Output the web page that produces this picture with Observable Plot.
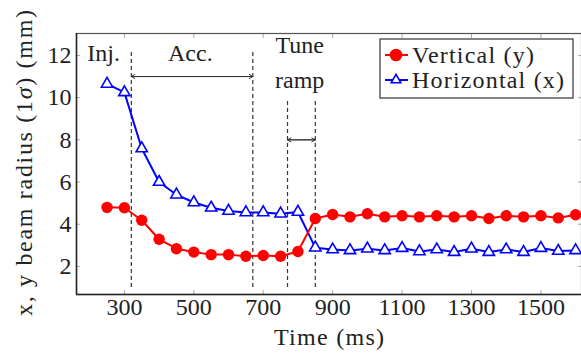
<!DOCTYPE html>
<html><head><meta charset="utf-8">
<script src="https://cdn.jsdelivr.net/npm/d3@7"></script>
<script src="https://cdn.jsdelivr.net/npm/@observablehq/plot@0.6"></script>
<style>
body{margin:0;background:#fff;}
#chart{position:relative;width:581px;height:354px;overflow:hidden;}
</style></head><body><div id="chart"></div>
<script>
// Time (ms) of each measurement
const times = [250,300,350,400,450,500,550,600,650,700,750,800,850,900,950,1000,1050,1100,1150,1200,1250,1300,1350,1400,1450,1500,1550,1600];
// Vertical (y) beam radius, mm
const vertical = [4.8,4.78,4.19,3.29,2.84,2.68,2.56,2.56,2.48,2.52,2.48,2.71,4.27,4.46,4.35,4.5,4.35,4.4,4.35,4.4,4.35,4.4,4.27,4.4,4.35,4.4,4.3,4.45];
// Horizontal (x) beam radius, mm
const horizontal = [10.65,10.25,7.59,6.0,5.4,5.03,4.78,4.63,4.56,4.56,4.5,4.58,2.89,2.8,2.76,2.84,2.76,2.87,2.71,2.8,2.68,2.84,2.68,2.8,2.68,2.87,2.73,2.76];
const xTicks = [300,500,700,900,1100,1300,1500];
const yTicks = [2,4,6,8,10,12];
// phase boundaries (ms) and the heights where each dashed line starts / ends
const phaseTimes = [320,670,770,850];
const phaseTops = [12.15,12.15,9.85,9.85];
const phaseBottom = 1.0;
// double arrows spanning the phases
const arrowFrom = [320,770];
const arrowTo = [670,850];
const arrowLevel = [11.0,8.0];
// phase labels
const labelText = ["Inj.","Acc.","Tune","ramp"];
const labelTime = [240,490,805,805];
const labelLevel = [12.1,12.1,12.5,10.8];

const seriesV = times.map((t,i)=>({t, v: vertical[i]}));
const seriesH = times.map((t,i)=>({t, v: horizontal[i]}));
const lines = phaseTimes.map((t,i)=>({t, top: phaseTops[i]}));
const arrows = arrowFrom.map((a,i)=>({a, b: arrowTo[i], y: arrowLevel[i]}));
const labels = labelText.map((s,i)=>({s, t: labelTime[i], y: labelLevel[i]}));

const plot = Plot.plot({
  width: 581, height: 354,
  marginLeft: 76, marginRight: 0, marginTop: 33, marginBottom: 60,
  style: {fontFamily: "Liberation Serif", fontSize: "24px", background: "#fff", color: "#222"},
  x: {domain: [162, 1617]},
  y: {domain: [0.67, 13.04]},
  marks: [
    Plot.axisX(xTicks, {anchor: "bottom", tickSize: -4, text: null, label: null, stroke: "#aaa"}),
    Plot.axisX(xTicks, {anchor: "top", tickSize: -4, text: null, label: null, stroke: "#aaa"}),
    Plot.axisY(yTicks, {anchor: "left", tickSize: -4, text: null, label: null, stroke: "#aaa"}),
    Plot.axisY(yTicks, {anchor: "right", tickSize: -4, text: null, label: null, stroke: "#aaa"}),
    Plot.ruleX(lines, {x: "t", y1: phaseBottom, y2: "top", stroke: "#333", strokeWidth: 1.2, strokeDasharray: "4,3"}),
    Plot.arrow(arrows, {x1: "a", x2: "b", y1: "y", y2: "y", stroke: "#333", strokeWidth: 1, headLength: 6}),
    Plot.arrow(arrows, {x1: "b", x2: "a", y1: "y", y2: "y", stroke: "#333", strokeWidth: 1, headLength: 6}),
    Plot.text(labels, {x: "t", y: "y", text: "s", fontSize: 24, fill: "#222"}),
    Plot.line(seriesH, {x: "t", y: "v", stroke: "#0000ff", strokeWidth: 2}),
    Plot.dot(seriesH, {x: "t", y: "v", symbol: "triangle", r: 4.2, stroke: "#0000ff", fill: "#fff", strokeWidth: 1.6}),
    Plot.line(seriesV, {x: "t", y: "v", stroke: "#ff0000", strokeWidth: 2}),
    Plot.dot(seriesV, {x: "t", y: "v", r: 5.7, fill: "#ff0000"}),
    Plot.axisX(xTicks, {anchor: "bottom", tickSize: 0, tickPadding: 3, label: null, fontSize: 24, tickFormat: d3.format("d")}),
    Plot.axisY(yTicks, {anchor: "left", tickSize: 0, tickPadding: 5, label: null, fontSize: 24, tickFormat: d3.format("d")}),
    Plot.frame({stroke: "#555", strokeWidth: 1.2}),
    Plot.ruleX([162], {stroke: "#222", strokeWidth: 1.5}),
    Plot.ruleY([0.67], {stroke: "#222", strokeWidth: 1.5})
  ]
});
document.getElementById("chart").appendChild(plot);

const svg = d3.select(plot);
// axis titles
const yl = svg.append("text")
  .attr("transform", "translate(24,163) rotate(-90)")
  .attr("text-anchor", "middle").attr("dominant-baseline", "central")
  .attr("font-size", 24).attr("fill", "#222")
  .attr("textLength", 306).attr("lengthAdjust", "spacing");
yl.append("tspan").text("x, y beam radius (1");
yl.append("tspan").attr("font-style", "italic").text("σ");
yl.append("tspan").text(") (mm)");
svg.append("text").attr("x", 329).attr("y", 337)
  .attr("text-anchor", "middle").attr("dominant-baseline", "central")
  .attr("font-size", 24).attr("fill", "#222")
  .attr("textLength", 110).attr("lengthAdjust", "spacing")
  .text("Time (ms)");

// legend
const lg = svg.append("g").attr("font-size", 24).attr("fill", "#222").attr("text-anchor", "start");
lg.append("rect").attr("x", 380).attr("y", 39).attr("width", 193).attr("height", 59)
  .attr("fill", "#fff").attr("stroke", "#333").attr("stroke-width", 1.2);
const entries = [
  {name: "Vertical (y)", color: "#ff0000", sym: d3.symbolCircle, size: Math.PI*5.5*5.5, fill: "#ff0000", y: 55, len: 122},
  {name: "Horizontal (x)", color: "#0000ff", sym: d3.symbolTriangle, size: Math.PI*3.6*3.6, fill: "#fff", y: 80, len: 152}
];
for (const e of entries) {
  lg.append("line").attr("x1", 385).attr("x2", 408).attr("y1", e.y).attr("y2", e.y)
    .attr("stroke", e.color).attr("stroke-width", 2);
  lg.append("path").attr("d", d3.symbol(e.sym, e.size)()).attr("transform", `translate(396,${e.y})`)
    .attr("fill", e.fill).attr("stroke", e.color).attr("stroke-width", 1.6);
  lg.append("text").attr("x", 412).attr("y", e.y).attr("dominant-baseline", "central")
    .attr("textLength", e.len).attr("lengthAdjust", "spacing").text(e.name);
}
</script></body></html>
